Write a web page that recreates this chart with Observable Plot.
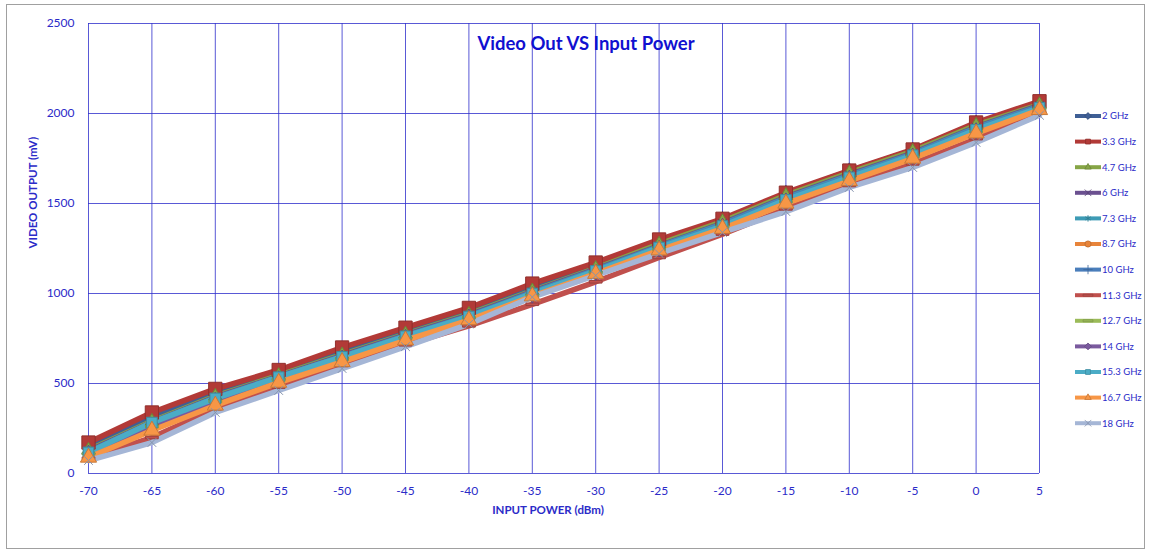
<!DOCTYPE html>
<html><head><meta charset="utf-8">
<script src="https://cdn.jsdelivr.net/npm/d3@7"></script>
<script src="https://cdn.jsdelivr.net/npm/@observablehq/plot@0.6"></script>
<style>
html,body{margin:0;padding:0;background:#fff;}
#wrap{position:relative;width:1151px;height:554px;}
#border{position:absolute;left:6px;top:4px;width:1139px;height:545px;border:1px solid #a0a0a0;box-sizing:border-box;pointer-events:none;}
</style>
</head><body>
<div id="wrap"><div id="chart"></div><div id="border"></div></div>
<script>
const inputPower = [-70,-65,-60,-55,-50,-45,-40,-35,-30,-25,-20,-15,-10,-5,0,5];
const seriesNames = ["2 GHz","3.3 GHz","4.7 GHz","6 GHz","7.3 GHz","8.7 GHz","10 GHz","11.3 GHz","12.7 GHz","14 GHz","15.3 GHz","16.7 GHz","18 GHz"];
const s2   = [150, 318, 455, 560, 680, 795, 905, 1035, 1160, 1290, 1410, 1555, 1680, 1795, 1945, 2060];
const s3_3 = [172, 339, 470, 575, 700, 810, 920, 1055, 1172, 1300, 1415, 1560, 1683, 1800, 1950, 2068];
const s4_7 = [130, 290, 430, 545, 660, 775, 885, 1015, 1140, 1275, 1400, 1545, 1670, 1790, 1935, 2050];
const s6   = [125, 285, 425, 540, 655, 770, 880, 1010, 1135, 1265, 1390, 1535, 1660, 1780, 1925, 2045];
const s7_3 = [120, 280, 420, 535, 650, 765, 875, 1005, 1130, 1260, 1385, 1530, 1655, 1775, 1920, 2040];
const s8_7 = [105, 255, 395, 515, 630, 748, 862, 995, 1120, 1250, 1375, 1515, 1640, 1765, 1905, 2030];
const s10  = [115, 275, 415, 530, 645, 760, 870, 1000, 1125, 1255, 1380, 1525, 1650, 1770, 1915, 2035];
const s11_3= [85, 200, 360, 480, 600, 715, 820, 940, 1065, 1200, 1330, 1470, 1600, 1720, 1860, 2010];
const s12_7= [110, 260, 400, 520, 635, 752, 865, 990, 1115, 1245, 1370, 1510, 1635, 1760, 1900, 2025];
const s14  = [112, 265, 405, 525, 640, 755, 868, 992, 1118, 1248, 1372, 1512, 1638, 1762, 1902, 2028];
const s15_3= [117, 283, 417, 535, 648, 762, 872, 1000, 1125, 1255, 1375, 1520, 1645, 1768, 1910, 2032];
const s16_7= [89, 239, 378, 505, 620, 740, 852, 985, 1110, 1240, 1360, 1500, 1625, 1750, 1890, 2020];
const s18  = [72, 172, 339, 461, 583, 705, 830, 980, 1100, 1222, 1339, 1455, 1589, 1700, 1839, 1990];
const seriesValues = [s2,s3_3,s4_7,s6,s7_3,s8_7,s10,s11_3,s12_7,s14,s15_3,s16_7,s18];
const xTicks = [-70,-65,-60,-55,-50,-45,-40,-35,-30,-25,-20,-15,-10,-5,0,5];
const yTicks = [0,500,1000,1500,2000,2500];

const colors = ["#3f5f95","#b23a37","#86a546","#6b5090","#3d9bb5","#e8843a","#4a7ebb","#c0504d","#9bbb59","#7a5a9e","#4bacc6","#f79646","#a5b6d6"];
const dash = {draw(ctx, size){const w=Math.sqrt(size)*0.9; ctx.rect(-w, -w/5, 2*w, 2*w/5);}};
const symbols = ["diamond","square","triangle","times","asterisk","circle","plus",dash,dash,"diamond","square","triangle","times"];
const dotR = [5,7.5,5,4,4,4.5,4,4,4,5,6,6,4];

const rows = [];
seriesNames.forEach((name,i)=>seriesValues[i].forEach((v,j)=>rows.push({series:name, idx:i, x:inputPower[j], y:v})));

const blue = "#2b2bc8";
const marks = [
  Plot.gridX(xTicks, {stroke:"#3030cc", strokeOpacity:0.8}),
  Plot.gridY(yTicks, {stroke:"#3030cc", strokeOpacity:0.8}),
  Plot.axisX(xTicks, {tickSize:0, tickPadding:13, fontSize:12, fill:blue, label:null, tickFormat:d=>String(d)}),
  Plot.axisY(yTicks, {tickSize:0, tickPadding:14, fontSize:12, fill:blue, label:null, tickFormat:d=>String(d)}),
  Plot.text(["INPUT POWER (dBm)"], {frameAnchor:"bottom", dy:40, dx:-16, fontSize:11.5, fontWeight:"bold", fill:blue, fontFamily:"Lato"}),
  Plot.text(["VIDEO OUTPUT (mV)"], {frameAnchor:"left", dx:-55, rotate:-90, fontSize:11.5, fontWeight:"bold", fill:blue, fontFamily:"Lato"}),
  Plot.text(["Video Out VS Input Power"], {frameAnchor:"top", dy:13, dx:22, fontSize:18.5, fontWeight:"bold", fill:"#1010d0", fontFamily:"Lato"})
];
seriesNames.forEach((name,i)=>{
  marks.push(Plot.line(rows.filter(r=>r.idx===i), {x:"x", y:"y", stroke:colors[i], strokeWidth:5.5, strokeLinejoin:"round"}));
});
seriesNames.forEach((name,i)=>{
  marks.push(Plot.dot(rows.filter(r=>r.idx===i), {x:"x", y:"y", symbol:symbols[i], r:dotR[i], fill:colors[i], stroke:d3.color(colors[i]).darker(0.6).formatHex(), strokeWidth:1}));
});

const chart = Plot.plot({
  width:1151, height:554,
  marginLeft:88, marginRight:112, marginTop:23, marginBottom:81,
  x:{domain:[-70,5]},
  y:{domain:[0,2500]},
  style:{fontFamily:"Lato, sans-serif", background:"transparent"},
  marks
});
document.getElementById("chart").appendChild(chart);

// legend
const svg = d3.select(chart);
const lg = svg.append("g").attr("text-anchor","start");
const d3sym = {"diamond":d3.symbolDiamond2,"square":d3.symbolSquare2,"triangle":d3.symbolTriangle2,"times":d3.symbolTimes,"asterisk":d3.symbolAsterisk,"circle":d3.symbolCircle,"plus":d3.symbolPlus};
seriesNames.forEach((name,i)=>{
  const y = 116 + i*25.6;
  const g = lg.append("g").attr("transform",`translate(0,${y})`);
  g.append("line").attr("x1",1075).attr("x2",1101).attr("y1",0).attr("y2",0).attr("stroke",colors[i]).attr("stroke-width",4);
  const type = typeof symbols[i]==="string" ? d3sym[symbols[i]] : symbols[i];
  g.append("path").attr("transform","translate(1088,0)").attr("d",d3.symbol(type, 30)()).attr("fill",colors[i]).attr("stroke",d3.color(colors[i]).darker(0.6).formatHex()).attr("stroke-width",0.8);
  g.append("text").attr("x",1102).attr("y",0).attr("dy","0.35em").attr("font-size",9.5).attr("text-anchor","start").attr("fill",blue).attr("font-family","Lato, sans-serif").text(name);
});
</script>
</body></html>
